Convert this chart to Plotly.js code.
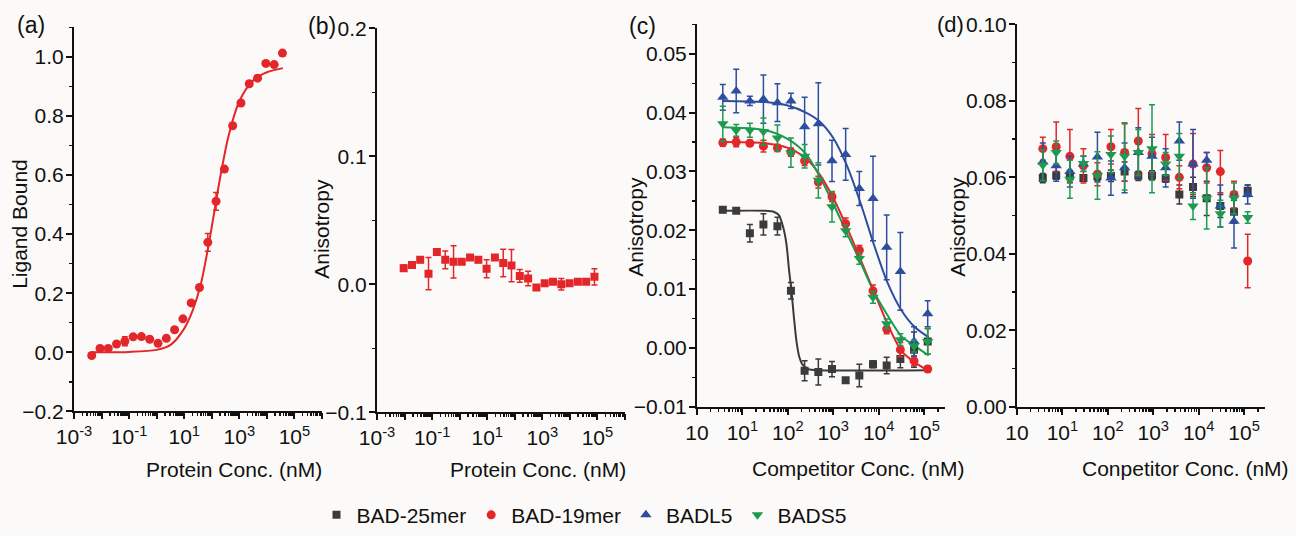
<!DOCTYPE html>
<html>
<head>
<meta charset="utf-8">
<script src="https://cdn.plot.ly/plotly-3.0.1.min.js"></script>
<style>html,body{margin:0;padding:0;background:#fcfaf8}</style>
</head>
<body>
<div id="chart" style="width:1296px;height:536px"></div>
<script>
// ---------------- DATA ----------------
// Panel (a): Ligand bound vs protein concentration (nM)
const concA = [0.0044, 0.0088, 0.0175, 0.035, 0.07, 0.14, 0.28, 0.56, 1.12, 2.24, 4.48, 8.96, 17.9, 35.8, 71.7, 143, 287, 573, 1147, 2294, 4588, 9175, 18350, 36700];
const boundA = [-0.011, 0.013, 0.013, 0.028, 0.037, 0.052, 0.053, 0.044, 0.030, 0.047, 0.076, 0.113, 0.167, 0.219, 0.372, 0.511, 0.620, 0.767, 0.844, 0.909, 0.928, 0.978, 0.974, 1.013];
const errA = [0.008, 0.006, 0.006, 0.006, 0.015, 0.006, 0.006, 0.006, 0.006, 0.006, 0.006, 0.006, 0.006, 0.006, 0.030, 0.030, 0.008, 0.008, 0.008, 0.008, 0.008, 0.008, 0.008, 0.008];
const fitConcA = [0.0044, 0.1, 1, 3.2, 10, 20, 40, 79, 126, 200, 400, 1000, 3160, 10000, 38000];
const fitA = [0.000, 0.001, 0.008, 0.025, 0.080, 0.140, 0.230, 0.370, 0.480, 0.590, 0.730, 0.850, 0.920, 0.948, 0.962];

// Panel (b): anisotropy vs protein concentration (nM)
const concB = [0.0093, 0.0186, 0.037, 0.074, 0.149, 0.30, 0.60, 1.19, 2.38, 4.76, 9.5, 19, 38, 76, 152, 305, 610, 1220, 2440, 4880, 9750, 19500, 39000, 78000];
const anisoB = [0.0126, 0.0151, 0.0191, 0.0083, 0.0252, 0.0191, 0.0176, 0.0176, 0.0209, 0.0191, 0.0121, 0.0209, 0.0166, 0.0146, 0.0065, 0.0045, -0.0025, 0.0008, 0.0020, 0.0000, 0.0008, 0.0020, 0.0020, 0.0058];
const errB = [0.0025, 0.002, 0.002, 0.0126, 0.002, 0.007, 0.0126, 0.002, 0.002, 0.002, 0.007, 0.002, 0.0107, 0.0126, 0.005, 0.0057, 0.002, 0.002, 0.002, 0.0045, 0.002, 0.002, 0.002, 0.0063];

// Panel (c): anisotropy vs competitor concentration (nM)
const concC = [3.7, 7.3, 14.6, 29, 59, 117, 234, 469, 938, 1875, 3750, 7500, 15000, 30000, 60000, 120000];
const c25 = [0.0235, 0.0233, 0.0195, 0.0210, 0.0207, 0.0097, -0.0039, -0.0041, -0.0036, -0.0055, -0.0047, -0.0028, -0.0030, -0.0019, -0.0003, 0.0011];
const c25err = [0.0005, 0.0004, 0.0015, 0.0018, 0.0015, 0.0014, 0.0017, 0.0022, 0.0013, 0.0004, 0.0019, 0.0006, 0.0014, 0.0015, 0.0030, 0.0022];
const c19 = [0.0349, 0.0350, 0.0348, 0.0343, 0.0340, 0.0333, 0.0318, 0.0282, 0.0257, 0.0211, 0.0166, 0.0097, 0.0032, -0.0003, -0.0022, -0.0036];
const c19err = [0.0006, 0.0008, 0.0005, 0.0010, 0.0006, 0.0007, 0.0008, 0.0010, 0.0008, 0.0010, 0.0008, 0.0010, 0.0008, 0.0012, 0.0008, 0.0005];
const cL5 = [0.0426, 0.0437, 0.0420, 0.0423, 0.0417, 0.0420, 0.0376, 0.0381, 0.0318, 0.0329, 0.0271, 0.0254, 0.0171, 0.0130, 0.0011, 0.0058];
const cL5err = [0.0022, 0.0037, 0.0008, 0.0041, 0.0032, 0.0013, 0.0050, 0.0070, 0.0035, 0.0044, 0.0029, 0.0072, 0.0055, 0.0066, 0.0025, 0.0022];
const cS5 = [0.0381, 0.0370, 0.0370, 0.0368, 0.0357, 0.0332, 0.0326, 0.0285, 0.0240, 0.0199, 0.0152, 0.0086, 0.0041, 0.0014, 0.0003, 0.0011];
const cS5err = [0.0030, 0.0010, 0.0012, 0.0023, 0.0022, 0.0025, 0.0020, 0.0030, 0.0026, 0.0010, 0.0010, 0.0010, 0.0008, 0.0010, 0.0010, 0.0022];
// fitted curves (c)
const fitConc25 = [3.7, 32, 50, 63, 79, 93, 107, 120, 135, 155, 178, 209, 282, 500, 126000];
const fit25 = [0.0233, 0.0233, 0.0231, 0.0226, 0.0205, 0.0177, 0.0130, 0.0097, 0.0055, 0.0011, -0.0015, -0.0028, -0.0036, -0.0038, -0.0038];
const fitConcC = [3.7, 32, 100, 250, 500, 1000, 2000, 4000, 7900, 15800, 31600, 63000, 126000];
const fit19 = [0.0350, 0.0348, 0.0340, 0.0322, 0.0295, 0.0255, 0.0205, 0.0150, 0.0095, 0.0040, -0.0005, -0.0025, -0.0039];
const fitL5 = [0.0420, 0.0418, 0.0412, 0.0400, 0.0385, 0.0357, 0.0310, 0.0246, 0.0175, 0.0110, 0.0064, 0.0035, 0.0018];
const fitS5 = [0.0375, 0.0370, 0.0355, 0.0330, 0.0292, 0.0245, 0.0195, 0.0145, 0.0095, 0.0055, 0.0020, 0.0003, -0.0013];

// Panel (d): anisotropy vs competitor concentration (nM)
const d25 = [0.0598, 0.0605, 0.0603, 0.0598, 0.0603, 0.0604, 0.0615, 0.0604, 0.0605, 0.0597, 0.0555, 0.0575, 0.0545, 0.0525, 0.0510, 0.0565];
const d25err = [0.0012, 0.0010, 0.0015, 0.0008, 0.0012, 0.0015, 0.0025, 0.0012, 0.0012, 0.0010, 0.0025, 0.0025, 0.0045, 0.0030, 0.0030, 0.0015];
const d19 = [0.0675, 0.0680, 0.0655, 0.0630, 0.0608, 0.0680, 0.0665, 0.0695, 0.0662, 0.0652, 0.0600, 0.0635, 0.0625, 0.0615, 0.0555, 0.0381];
const d19err = [0.0030, 0.0065, 0.0070, 0.0045, 0.0030, 0.0045, 0.0075, 0.0085, 0.0050, 0.0060, 0.0030, 0.0080, 0.0040, 0.0055, 0.0035, 0.0070];
const dL5 = [0.0640, 0.0630, 0.0615, 0.0635, 0.0653, 0.0598, 0.0625, 0.0665, 0.0655, 0.0625, 0.0695, 0.0635, 0.0645, 0.0525, 0.0485, 0.0555];
const dL5err = [0.0050, 0.0040, 0.0040, 0.0020, 0.0065, 0.0045, 0.0065, 0.0065, 0.0050, 0.0050, 0.0050, 0.0090, 0.0020, 0.0055, 0.0070, 0.0025];
const dS5 = [0.0632, 0.0665, 0.0595, 0.0636, 0.0605, 0.0660, 0.0655, 0.0665, 0.0675, 0.0635, 0.0655, 0.0525, 0.0545, 0.0505, 0.0545, 0.0495];
const dS5err = [0.0040, 0.0030, 0.0050, 0.0020, 0.0062, 0.0048, 0.0088, 0.0060, 0.0115, 0.0030, 0.0060, 0.0035, 0.0080, 0.0035, 0.0040, 0.0015];

// Series names and tick labels
const seriesNames = ['BAD-25mer', 'BAD-19mer', 'BADL5', 'BADS5'];
const tickValsAB = [0.001, 0.01, 0.1, 1, 10, 100, 1000, 10000, 100000, 1000000];
const tickTextAB = ['10<sup>-3</sup>', '', '10<sup>-1</sup>', '', '10<sup>1</sup>', '', '10<sup>3</sup>', '', '10<sup>5</sup>', ''];
const tickValsCD = [1, 10, 100, 1000, 10000, 100000];
const tickTextCD = ['10', '10<sup>1</sup>', '10<sup>2</sup>', '10<sup>3</sup>', '10<sup>4</sup>', '10<sup>5</sup>'];

// ---------------- STYLE ----------------
const W = 1296, H = 536;
const FONT = 'Liberation Sans, Arial, Helvetica, sans-serif';
const INK = '#111111';
const RED = '#e2262a', GRAY = '#3b3b3b', BLUE = '#2d4d9f', GREEN = '#1d9a50';
const colors = [GRAY, RED, BLUE, GREEN];
const symbols = ['square', 'circle', 'triangle-up', 'triangle-down'];

function px2x(p) { return p / W; }
function px2y(p) { return 1 - p / H; }

function xAxis(x0, x1, range, tv, tt, anchor) {
  return {
    type: 'log', domain: [px2x(x0), px2x(x1)], range: range, anchor: anchor,
    tickmode: 'array', tickvals: tv, ticktext: tt,
    ticks: 'outside', ticklen: 6, tickwidth: 2, tickcolor: INK,
    showline: true, linewidth: 2, linecolor: INK,
    showgrid: false, zeroline: false,
    tickfont: {family: FONT, size: 21, color: INK},
    minor: {dtick: 'D1', ticks: 'outside', ticklen: 3, tickwidth: 1.5, tickcolor: INK, showgrid: false}
  };
}
function yAxis(y0px, y1px, range, dtick, fmt, anchor) {
  return {
    domain: [px2y(y1px), px2y(y0px)], range: range, anchor: anchor,
    tick0: 0, dtick: dtick, tickformat: fmt,
    ticks: 'outside', ticklen: 6, tickwidth: 2, tickcolor: INK,
    showline: true, linewidth: 2, linecolor: INK,
    showgrid: false, zeroline: false, ticklabelstandoff: -2,
    tickfont: {family: FONT, size: 21, color: INK},
    minor: {dtick: dtick / 2, ticks: 'outside', ticklen: 3, tickwidth: 1.5, tickcolor: INK, showgrid: false}
  };
}

function pts(x, y, err, i, xa, ya, showLeg, size) {
  return {
    x: x, y: y, type: 'scatter', mode: 'markers', xaxis: xa, yaxis: ya,
    name: seriesNames[i], showlegend: showLeg, legendgroup: seriesNames[i],
    marker: {symbol: symbols[i], size: size, color: colors[i], line: {width: 0}},
    error_y: {type: 'data', array: err, visible: true, color: colors[i], thickness: 1.5, width: 3}
  };
}
function curve(x, y, color, xa, ya) {
  return {
    x: x, y: y, type: 'scatter', mode: 'lines', xaxis: xa, yaxis: ya, showlegend: false,
    line: {color: color, width: 2, shape: 'spline', smoothing: 0.8}, hoverinfo: 'skip'
  };
}

const traces = [
  // (a)
  curve(fitConcA, fitA, RED, 'x', 'y'),
  pts(concA, boundA, errA, 1, 'x', 'y', false, 9),
  // (b)
  pts(concB, anisoB, errB, 0, 'x2', 'y2', false, 8),
  // (c)
  curve(fitConc25, fit25, GRAY, 'x3', 'y3'),
  curve(fitConcC, fit19, RED, 'x3', 'y3'),
  curve(fitConcC, fitL5, BLUE, 'x3', 'y3'),
  curve(fitConcC, fitS5, GREEN, 'x3', 'y3'),
  pts(concC, c25, c25err, 0, 'x3', 'y3', true, 8),
  pts(concC, c19, c19err, 1, 'x3', 'y3', true, 9),
  pts(concC, cL5, cL5err, 2, 'x3', 'y3', true, 10),
  pts(concC, cS5, cS5err, 3, 'x3', 'y3', true, 10),
  // (d)
  pts(concC, d25, d25err, 0, 'x4', 'y4', false, 8),
  pts(concC, d19, d19err, 1, 'x4', 'y4', false, 9),
  pts(concC, dL5, dL5err, 2, 'x4', 'y4', false, 10),
  pts(concC, dS5, dS5err, 3, 'x4', 'y4', false, 10)
];
// panel (b) uses red squares
traces[2].marker.color = RED; traces[2].error_y.color = RED;

function ann(text, xp, yp, size, angle) {
  return {text: text, x: px2x(xp), y: px2y(yp), xref: 'paper', yref: 'paper',
    xanchor: 'center', yanchor: 'middle', showarrow: false, textangle: angle || 0,
    font: {family: FONT, size: size, color: INK}};
}

const layout = {
  width: W, height: H,
  margin: {l: 0, r: 0, t: 0, b: 0},
  paper_bgcolor: '#fcfaf8', plot_bgcolor: 'rgba(0,0,0,0)',
  font: {family: FONT, color: INK},
  xaxis:  xAxis(74, 322, [-3, 6], tickValsAB, tickTextAB, 'y'),
  yaxis:  yAxis(28, 420.7, [-0.2, 1.1], 0.2, '.1f', 'x'),
  xaxis2: xAxis(377, 625, [-3, 6], tickValsAB, tickTextAB, 'y2'),
  yaxis2: yAxis(29, 421.7, [-0.1, 0.2], 0.1, '.1f', 'x2'),
  xaxis3: xAxis(697, 945, [0, 5.46], tickValsCD, tickTextCD, 'y3'),
  yaxis3: yAxis(25, 416, [-0.01, 0.055], 0.01, '.2f', 'x3'),
  xaxis4: xAxis(1017, 1265, [0, 5.46], tickValsCD, tickTextCD, 'y4'),
  yaxis4: yAxis(25, 416, [0, 0.1], 0.02, '.2f', 'x4'),
  showlegend: true,
  legend: {orientation: 'h', x: px2x(584), xanchor: 'center', y: px2y(527), yanchor: 'middle',
    font: {family: FONT, size: 21, color: INK}, bgcolor: 'rgba(0,0,0,0)', itemwidth: 30, tracegroupgap: 0},
  annotations: [
    ann('(a)', 31, 26, 23), ann('(b)', 322, 27, 23), ann('(c)', 642, 27, 23), ann('(d)', 950, 25, 22),
    ann('Ligand Bound', 20, 229, 21, -90),
    ann('Anisotropy', 322, 234, 21, -90),
    ann('Anisotropy', 636, 232, 21, -90),
    ann('Anisotropy', 958, 232, 21, -90),
    ann('Protein Conc. (nM)', 234, 480, 21),
    ann('Protein Conc. (nM)', 538, 480, 21),
    ann('Competitor Conc. (nM)', 858, 479, 21),
    ann('Conpetitor Conc. (nM)', 1185, 479, 21)
  ]
};

Plotly.newPlot('chart', traces, layout, {staticPlot: true, displayModeBar: false});
</script>
</body>
</html>
